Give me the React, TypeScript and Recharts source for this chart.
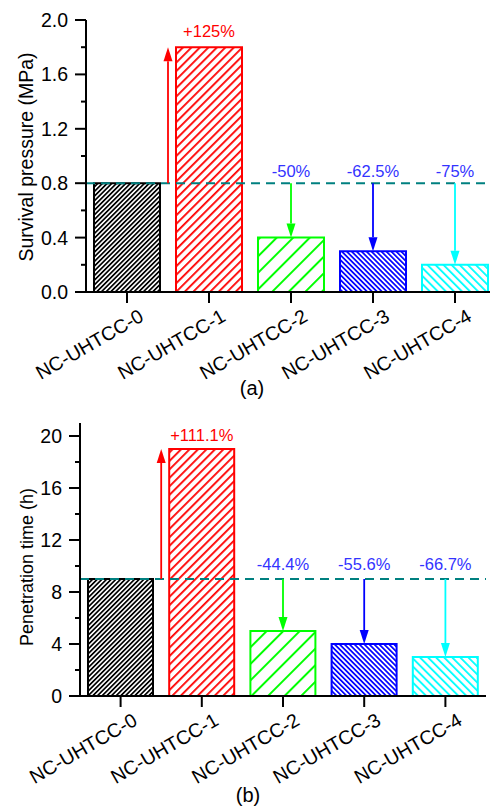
import { BarChart, Bar, Cell, XAxis, YAxis, ReferenceLine, ReferenceDot } from 'recharts'

const categories = ['NC-UHTCC-0', 'NC-UHTCC-1', 'NC-UHTCC-2', 'NC-UHTCC-3', 'NC-UHTCC-4']
const survivalPressure = [0.8, 1.8, 0.4, 0.3, 0.2] // MPa
const penetrationTime = [9, 19, 5, 4, 3] // h
const barColors = ['#000000', '#FF0000', '#00FF00', '#0000FF', '#00FFFF']
const pressureTicks = [0, 0.2, 0.4, 0.6, 0.8, 1.0, 1.2, 1.4, 1.6, 1.8, 2.0]
const timeTicks = [0, 2, 4, 6, 8, 10, 12, 14, 16, 18, 20]

// hatch fill per bar: stripe spacing, stripe width, direction
const hatches = [
  { gap: 3.3, line: 1.7, angle: 45 },
  { gap: 6, line: 1.8, angle: 45 },
  { gap: 11.7, line: 2, angle: 45 },
  { gap: 3.5, line: 1.7, angle: -45 },
  { gap: 5.7, line: 1.8, angle: -45 },
]

const FONT = '"Liberation Sans", Arial, Helvetica, sans-serif'

function pctLabel(v: number, base: number) {
  const p = ((v - base) / base) * 100
  return `${p > 0 ? '+' : ''}${Number(p.toFixed(1))}%`
}

function Arrow(props: any) {
  const { x1, y1, x2, y2, stroke } = props
  const dir = y2 > y1 ? 1 : -1
  const head = 14
  const half = 4.5
  const neck = y2 - dir * head
  return (
    <g>
      <line x1={x1} y1={y1} x2={x2} y2={neck} stroke={stroke} strokeWidth={1.8} />
      <polygon points={`${x2 - half},${neck} ${x2 + half},${neck} ${x2},${y2}`} fill={stroke} />
    </g>
  )
}

function YTick({ x, y, payload, step, digits }: any) {
  const v = payload.value as number
  const major = Math.abs(v / step - Math.round(v / step)) < 1e-6
  return (
    <g>
      <line x1={x} x2={x - (major ? 11 : 5)} y1={y} y2={y} stroke="#000" strokeWidth={2} />
      {major && (
        <text x={x - 18} y={y} dy="0.36em" textAnchor="end" fontSize={19.5} fontFamily={FONT} fill="#000">
          {v.toFixed(digits)}
        </text>
      )}
    </g>
  )
}

// category names, slanted, ending just right of the tick
function XTick({ x, y, payload }: any) {
  const tx = x + 18
  const ty = y + 17
  return (
    <text x={tx} y={ty} textAnchor="end" transform={`rotate(-30 ${tx} ${ty})`} fontSize={19.5} fontFamily={FONT} fill="#000">
      {payload.value}
    </text>
  )
}

type PanelProps = {
  values: number[]
  ticks: number[]
  step: number
  digits: number
  domain: [number, number]
  top: number
  height: number
  margin: { top: number; right: number; bottom: number; left: number }
  barSize: number
  upOffset: number
  downOffset: number
}

function Panel({ values, ticks, step, digits, domain, top, height, margin, barSize, upOffset, downOffset }: PanelProps) {
  const base = values[0]
  const data = categories.map((name, i) => ({ name, value: values[i] }))
  return (
    <div style={{ position: 'absolute', left: 0, top }}>
      <BarChart width={500} height={height} data={data} margin={margin}>
        <XAxis
          dataKey="name"
          height={40}
          interval={0}
          axisLine={{ stroke: '#000', strokeWidth: 2 }}
          tickLine={{ stroke: '#000', strokeWidth: 2 }}
          tickSize={11}
          tickMargin={0}
          tick={<XTick />}
        />
        <YAxis
          type="number"
          domain={domain}
          ticks={ticks}
          interval={0}
          width={66}
          axisLine={{ stroke: '#000', strokeWidth: 2 }}
          tickLine={false}
          tickSize={0}
          tickMargin={0}
          tick={<YTick step={step} digits={digits} />}
        />
        <Bar dataKey="value" barSize={barSize} isAnimationActive={false}>
          {values.map((_, i) => (
            <Cell key={i} fill={`url(#hatch-${i})`} stroke={barColors[i]} strokeWidth={2} />
          ))}
        </Bar>
        <ReferenceLine y={base} stroke="#008080" strokeWidth={2} strokeDasharray="9 6" />
        {values.map((v, i) =>
          i === 0 ? null : (
            <ReferenceLine
              key={`arrow-${i}`}
              segment={[
                { x: categories[i], y: base },
                { x: categories[i], y: v },
              ]}
              position={v > base ? 'start' : 'middle'}
              stroke={barColors[i]}
              shape={Arrow}
            />
          )
        )}
        {values.map((v, i) =>
          i === 0 ? null : (
            <ReferenceDot
              key={`pct-${i}`}
              x={categories[i]}
              y={v > base ? v : base}
              r={0}
              stroke="none"
              fill="none"
              label={{
                value: pctLabel(v, base),
                position: 'top',
                offset: v > base ? upOffset : downOffset,
                fill: v > base ? '#FF0000' : '#3333FF',
                fontSize: 16.5,
                fontFamily: FONT,
              }}
            />
          )
        )}
      </BarChart>
    </div>
  )
}

export default function App() {
  return (
    <div style={{ position: 'fixed', left: 0, top: 0, width: 490, height: 811, overflow: 'hidden', background: '#fff' }}>
      <svg width={0} height={0} style={{ position: 'absolute' }}>
        <defs>
          {hatches.map((h, i) => (
            <pattern
              key={i}
              id={`hatch-${i}`}
              width={h.gap}
              height={h.gap}
              patternUnits="userSpaceOnUse"
              patternTransform={`rotate(${h.angle})`}
            >
              <rect width={h.gap} height={h.gap} fill="#fff" />
              <rect width={h.line} height={h.gap} fill={barColors[i]} />
            </pattern>
          ))}
        </defs>
      </svg>

      <Panel
        values={survivalPressure}
        ticks={pressureTicks}
        step={0.4}
        digits={1}
        domain={[0, 2]}
        top={0}
        height={400}
        margin={{ top: 20, right: 4, bottom: 68, left: 20 }}
        barSize={66}
        upOffset={10}
        downOffset={6}
      />
      <Panel
        values={penetrationTime}
        ticks={timeTicks}
        step={4}
        digits={0}
        domain={[0, 21]}
        top={400}
        height={411}
        margin={{ top: 23, right: 14, bottom: 75, left: 14 }}
        barSize={65}
        upOffset={8}
        downOffset={9}
      />

      <svg width={490} height={811} style={{ position: 'absolute', left: 0, top: 0, pointerEvents: 'none' }}>
        <g fontFamily={FONT} fill="#000" textAnchor="middle">
          <text x={33} y={157} fontSize={19.5} transform="rotate(-90 33 157)">Survival pressure (MPa)</text>
          <text x={33} y={567} fontSize={18} transform="rotate(-90 33 567)">Penetration time (h)</text>
          <text x={252} y={395} fontSize={20}>(a)</text>
          <text x={248} y={802} fontSize={20}>(b)</text>
        </g>
      </svg>
    </div>
  )
}
